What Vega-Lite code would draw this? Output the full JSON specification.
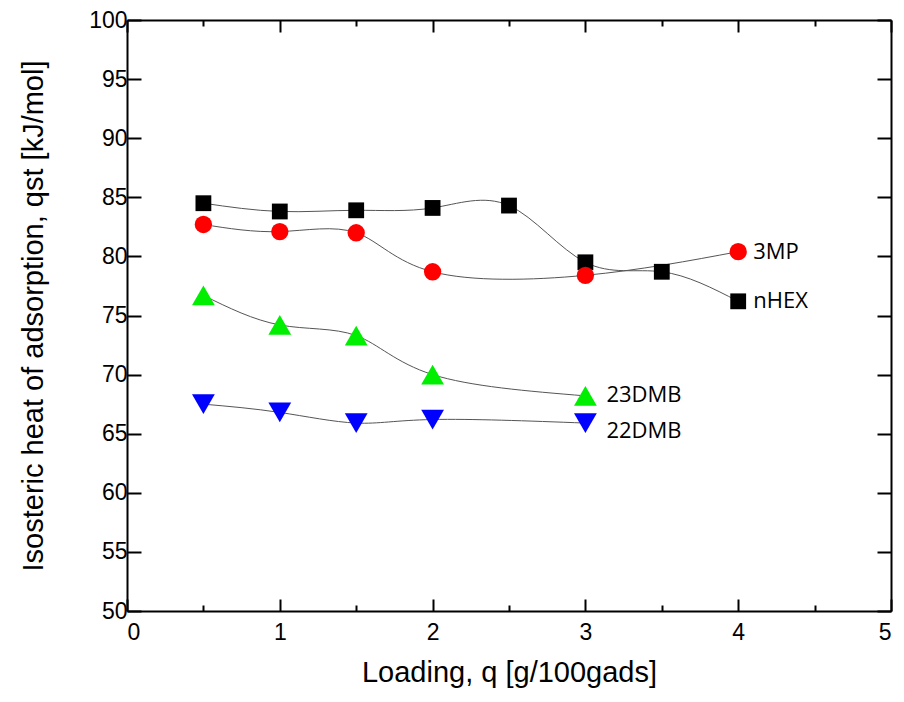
{
  "$schema": "https://vega.github.io/schema/vega-lite/v6.json",
  "autosize": {"type": "none"},
  "padding": {"left": 127, "top": 20, "right": 13, "bottom": 91},
  "width": 764,
  "height": 591,
  "background": "white",
  "config": {
    "view": {"stroke": null},
    "axis": {
      "domainColor": "black", "domainWidth": 2, "tickColor": "black", "tickWidth": 2,
      "grid": false, "labelFont": "Liberation Sans", "labelFontSize": 23, "labelColor": "black",
      "titleFont": "Liberation Sans", "titleFontSize": 29, "titleFontWeight": "normal", "titleColor": "black"
    }
  },
  "datasets": {
    "pts": [
      {"s": "nHEX", "x": 0.5, "y": 84.5}, {"s": "nHEX", "x": 1, "y": 83.8}, {"s": "nHEX", "x": 1.5, "y": 83.9},
      {"s": "nHEX", "x": 2, "y": 84.1}, {"s": "nHEX", "x": 2.5, "y": 84.3}, {"s": "nHEX", "x": 3, "y": 79.5},
      {"s": "nHEX", "x": 3.5, "y": 78.7}, {"s": "nHEX", "x": 4, "y": 76.2},
      {"s": "3MP", "x": 0.5, "y": 82.7}, {"s": "3MP", "x": 1, "y": 82.1}, {"s": "3MP", "x": 1.5, "y": 82.0},
      {"s": "3MP", "x": 2, "y": 78.7}, {"s": "3MP", "x": 3, "y": 78.4}, {"s": "3MP", "x": 4, "y": 80.4},
      {"s": "23DMB", "x": 0.5, "y": 76.7}, {"s": "23DMB", "x": 1, "y": 74.2}, {"s": "23DMB", "x": 1.5, "y": 73.3},
      {"s": "23DMB", "x": 2, "y": 70.0}, {"s": "23DMB", "x": 3, "y": 68.2},
      {"s": "22DMB", "x": 0.5, "y": 67.5}, {"s": "22DMB", "x": 1, "y": 66.8}, {"s": "22DMB", "x": 1.5, "y": 65.9},
      {"s": "22DMB", "x": 2, "y": 66.2}, {"s": "22DMB", "x": 3, "y": 65.9}
    ],
    "labs": [
      {"t": "3MP", "x": 4, "y": 80.4, "g": "a"},
      {"t": "nHEX", "x": 4, "y": 76.2, "g": "a"},
      {"t": "23DMB", "x": 3, "y": 68.3, "g": "b"},
      {"t": "22DMB", "x": 3, "y": 65.2, "g": "b"}
    ]
  },
  "resolve": {"axis": {"x": "independent", "y": "independent"}},
  "layer": [
    {
      "data": {"name": "pts"},
      "mark": {"type": "line", "interpolate": "natural", "color": "#555555", "strokeWidth": 1},
      "encoding": {
        "x": {"field": "x", "type": "quantitative", "scale": {"domain": [0, 5], "nice": false},
          "axis": {"orient": "bottom", "title": "Loading, q [g/100gads]", "values": [0, 0.5, 1, 1.5, 2, 2.5, 3, 3.5, 4, 4.5, 5],
            "tickSize": {"condition": {"test": "datum.value % 1 !== 0", "value": -6}, "value": -12},
            "format": "~g",
            "labelExpr": "datum.value % 1 === 0 ? datum.label : ''", "labelPadding": 22, "titlePadding": 14}},
        "y": {"field": "y", "type": "quantitative", "scale": {"domain": [50, 100], "nice": false, "zero": false},
          "axis": {"orient": "left", "title": "Isosteric heat of adsorption, qst [kJ/mol]", "values": [50, 55, 60, 65, 70, 75, 80, 85, 90, 95, 100],
            "tickSize": -14, "labelPadding": 14, "titlePadding": 40}},
        "detail": {"field": "s"}
      }
    },
    {
      "data": {"name": "pts"},
      "mark": {"type": "point", "filled": true, "opacity": 1},
      "encoding": {
        "x": {"field": "x", "type": "quantitative",
          "axis": {"orient": "top", "title": null, "labels": false, "values": [0, 0.5, 1, 1.5, 2, 2.5, 3, 3.5, 4, 4.5, 5],
            "tickSize": {"condition": {"test": "datum.value % 1 !== 0", "value": -6}, "value": -12}}},
        "y": {"field": "y", "type": "quantitative",
          "axis": {"orient": "right", "title": null, "labels": false, "values": [50, 55, 60, 65, 70, 75, 80, 85, 90, 95, 100], "tickSize": -14}},
        "shape": {"field": "s", "type": "nominal", "legend": null,
          "scale": {"domain": ["nHEX", "3MP", "23DMB", "22DMB"], "range": ["square", "circle", "triangle-up", "triangle-down"]}},
        "size": {"condition": [
            {"test": "datum.s === '23DMB' || datum.s === '22DMB'", "value": 520},
            {"test": "datum.s === '3MP'", "value": 300}
          ], "value": 250},
        "color": {"field": "s", "type": "nominal", "legend": null,
          "scale": {"domain": ["nHEX", "3MP", "23DMB", "22DMB"], "range": ["#000000", "#ff0000", "#00ee00", "#0000ff"]}}
      }
    },
    {
      "data": {"name": "labs"},
      "transform": [{"filter": "datum.g === 'a'"}],
      "mark": {"type": "text", "align": "left", "baseline": "middle", "dx": 15, "font": "Open Sans", "fontSize": 22, "color": "black"},
      "encoding": {
        "x": {"field": "x", "type": "quantitative", "axis": null},
        "y": {"field": "y", "type": "quantitative", "axis": null},
        "text": {"field": "t"}
      }
    },
    {
      "data": {"name": "labs"},
      "transform": [{"filter": "datum.g === 'b'"}],
      "mark": {"type": "text", "align": "left", "baseline": "middle", "dx": 21, "font": "Open Sans", "fontSize": 22, "color": "black"},
      "encoding": {
        "x": {"field": "x", "type": "quantitative", "axis": null},
        "y": {"field": "y", "type": "quantitative", "axis": null},
        "text": {"field": "t"}
      }
    }
  ]
}
